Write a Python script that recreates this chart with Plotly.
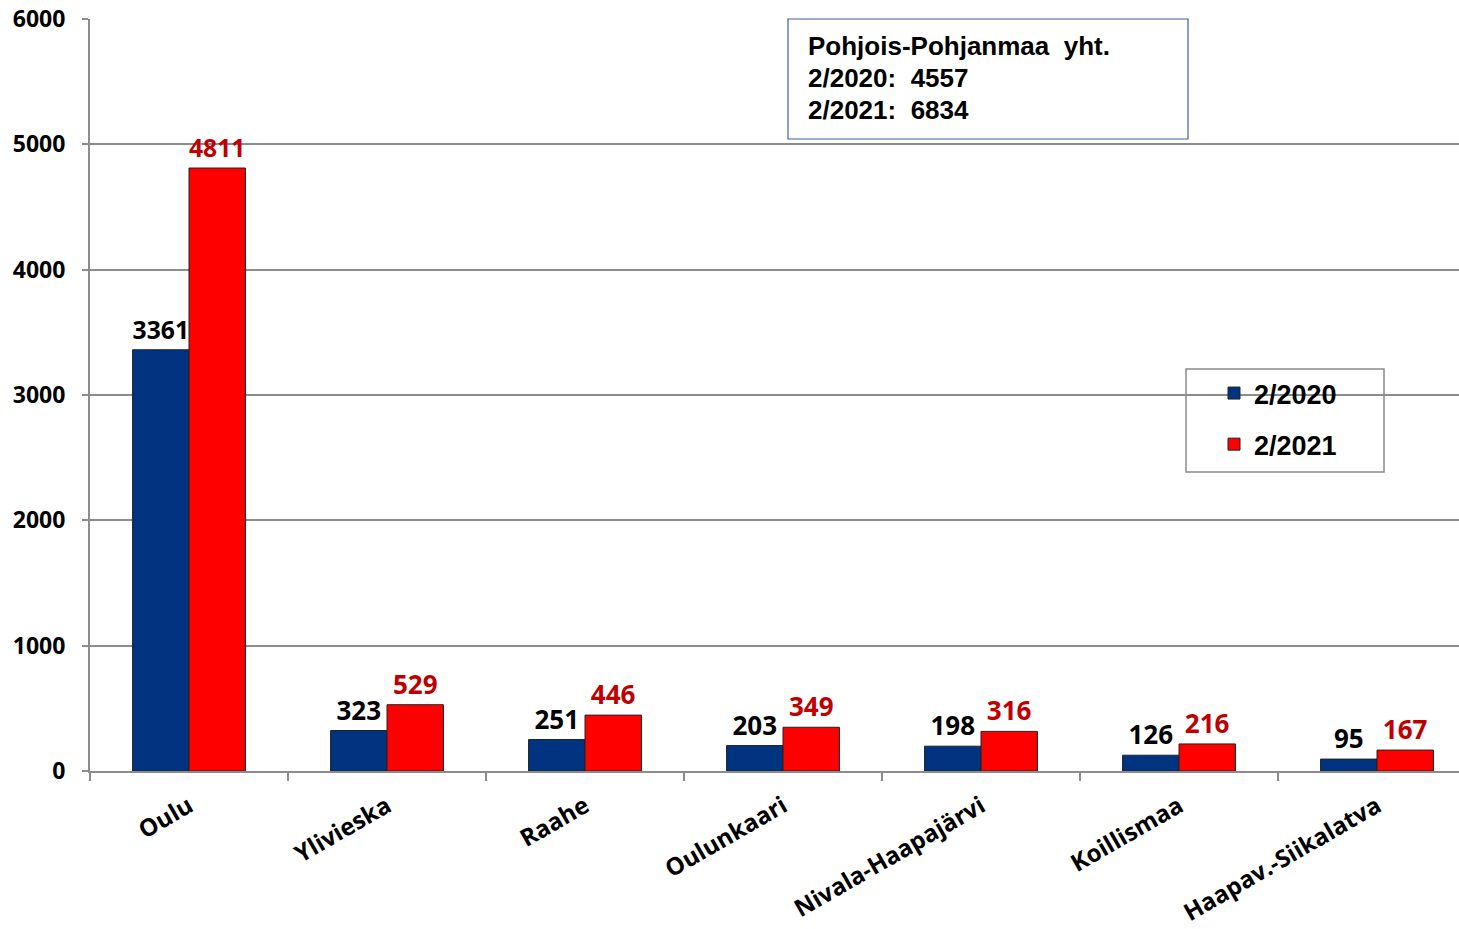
import plotly.graph_objects as go

categories = ["Oulu", "Ylivieska", "Raahe", "Oulunkaari", "Nivala-Haapajärvi", "Koillismaa", "Haapav.-Siikalatva"]
series_names = ["2/2020", "2/2021"]
values_2020 = [3361, 323, 251, 203, 198, 126, 95]
values_2021 = [4811, 529, 446, 349, 316, 216, 167]
total_title = "Pohjois-Pohjanmaa\u00a0\u00a0yht."
totals = [4557, 6834]
y_ticks = [0, 1000, 2000, 3000, 4000, 5000, 6000]

W, H = 1459, 929
L, R, T, B = 90, 0, 19, 158
pw, ph = W - L - R, H - T - B
cat_px = 198.0  # category width in reference (last category partly clipped)

def px(x):
    return (x - L) / pw

def py(y):
    return (H - B - y) / ph

fig = go.Figure()
fig.add_trace(go.Bar(
    x=categories, y=values_2020, name=series_names[0],
    marker=dict(color="#003380", line=dict(color="#222222", width=1)),
    text=values_2020, textposition="outside", cliponaxis=False,
    textfont=dict(family="Open Sans", size=26, color="#000000", weight="bold"),
    legendgroup="a",
))
fig.add_trace(go.Bar(
    x=categories, y=values_2021, name=series_names[1],
    marker=dict(color="#FF0000", line=dict(color="#222222", width=1)),
    text=values_2021, textposition="outside", cliponaxis=False,
    textfont=dict(family="Open Sans", size=26, color="#C00000", weight="bold"),
    legendgroup="b",
))

fig.update_layout(
    width=W, height=H,
    margin=dict(l=L, r=R, t=T, b=B),
    paper_bgcolor="white", plot_bgcolor="white",
    barmode="group", bargap=0.43, bargroupgap=0,
    font=dict(family="Open Sans", color="#000000"),
    legend=dict(
        x=px(1214), y=py(369), xanchor="left", yanchor="top",
        borderwidth=0, bgcolor="rgba(0,0,0,0)",
        font=dict(family="Liberation Sans", size=27, color="#000000", weight="bold"),
        traceorder="grouped", tracegroupgap=13,
        itemwidth=30,
    ),
    xaxis=dict(
        range=[-0.5, -0.5 + pw / cat_px],
        showline=True, linecolor="#8C8C8C", linewidth=2,
        ticks="outside", tickson="boundaries", ticklen=8, tickcolor="#8C8C8C", tickwidth=2,
        tickangle=-30, ticklabelstandoff=10,
        tickfont=dict(family="Open Sans", size=24, color="#000000", weight="bold"),
        showgrid=False,
    ),
    yaxis=dict(
        range=[0, 6000], tickvals=y_ticks,
        showline=True, linecolor="#8C8C8C", linewidth=2,
        ticks="outside", ticklen=6, tickcolor="#8C8C8C", tickwidth=2,
        ticklabelstandoff=12,
        showgrid=True, gridcolor="#8C8C8C", gridwidth=2,
        tickfont=dict(family="Open Sans", size=23, color="#000000", weight="bold"),
        zeroline=False,
    ),
)

# legend frame
fig.add_shape(type="rect", xref="paper", yref="paper",
              x0=px(1186), x1=px(1384), y0=py(472), y1=py(369),
              line=dict(color="#8C8C8C", width=1.5), fillcolor="white", layer="below")

# totals box
fig.add_shape(type="rect", xref="paper", yref="paper",
              x0=px(788), x1=px(1188), y0=py(139), y1=py(19),
              line=dict(color="#3D5FA0", width=1.2), fillcolor="white", layer="above")
box_lines = [
    total_title,
    f"{series_names[0]}:\u00a0\u00a0{totals[0]}",
    f"{series_names[1]}:\u00a0\u00a0{totals[1]}",
]
for i, line in enumerate(box_lines):
    fig.add_annotation(
        xref="paper", yref="paper", x=px(806), y=py(46 + 32 * i), xanchor="left", yanchor="middle",
        align="left", showarrow=False, text=line,
        font=dict(family="Liberation Sans", size=26, color="#000000", weight="bold"),
    )

fig.write_html(
    "out.html",
    config={"displayModeBar": False},
    post_script="document.body.style.margin='0';document.body.style.overflow='hidden';",
)
